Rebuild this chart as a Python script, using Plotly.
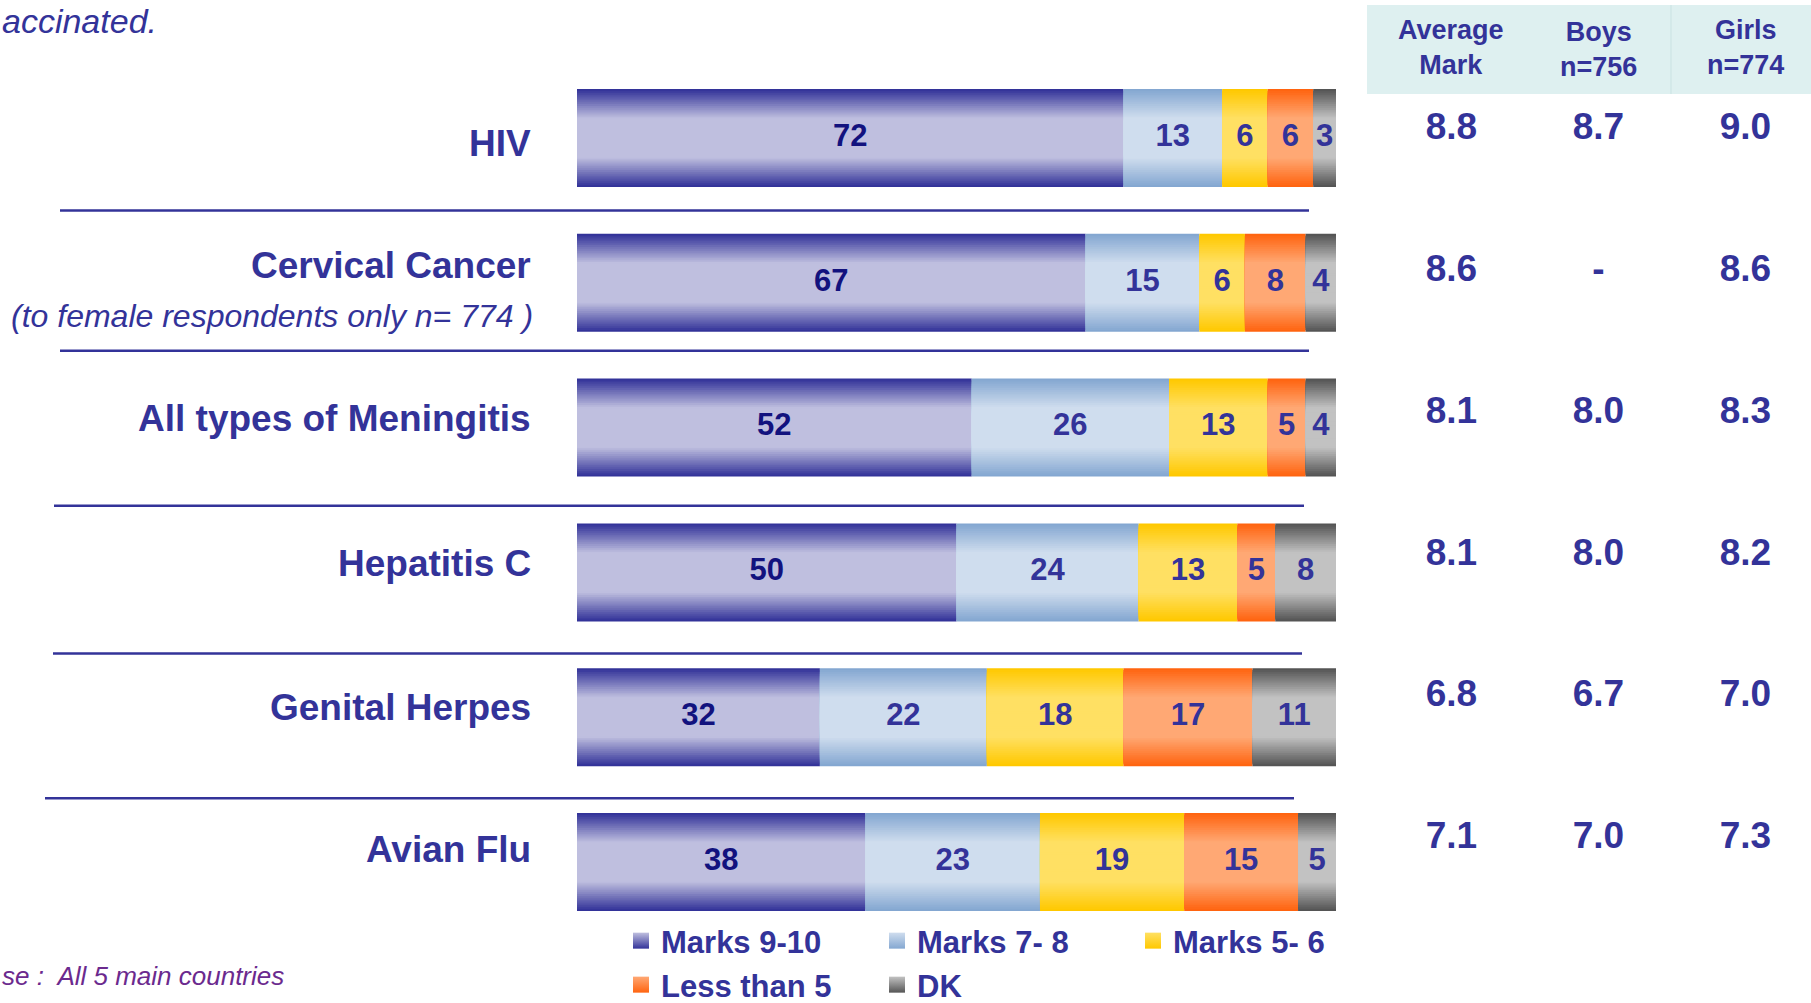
import plotly.graph_objects as go

W, H = 1811, 1003
FONT = "Liberation Sans, Arial, sans-serif"
NAVY = "#333399"

# ---- data ----
categories = ["HIV", "Cervical Cancer", "All types of Meningitis",
              "Hepatitis C", "Genital Herpes", "Avian Flu"]
series_names = ["Marks 9-10", "Marks 7- 8", "Marks 5- 6", "Less than 5", "DK"]
marks_9_10 = [72, 67, 52, 50, 32, 38]
marks_7_8 = [13, 15, 26, 24, 22, 23]
marks_5_6 = [6, 6, 13, 13, 18, 19]
less_than_5 = [6, 8, 5, 5, 17, 15]
dont_know = [3, 4, 4, 8, 11, 5]

table_columns = ["Average Mark", "Boys", "Girls"]
table_headers = ["Average<br>Mark", "Boys<br>n=756", "Girls<br>n=774"]
average_mark = [8.8, 8.6, 8.1, 8.1, 6.8, 7.1]
boys_mark = [8.7, None, 8.0, 8.0, 6.7, 7.0]
girls_mark = [9.0, 8.6, 8.3, 8.2, 7.0, 7.3]

cervical_note = "(to female respondents only n= 774 )"
# title and base note are cropped at the left edge in the source picture
title_text = "accinated."
base_text = "se :  All 5 main countries"

# ---- styles ----
# (edge colour, centre colour) of the vertical gradient of each series
series_colors = [
    ("#333399", "#BFBFDF"),
    ("#84A7D1", "#CFDDEE"),
    ("#FFC800", "#FFE063"),
    ("#FF6410", "#FFA874"),
    ("#555555", "#C2C2C2"),
]
label_colors = ["#12127E", NAVY, NAVY, NAVY, NAVY]
BAR_W = 0.677
N_LAYERS = 26


def hex_rgb(c):
    c = c.lstrip("#")
    return [int(c[i:i + 2], 16) for i in (0, 2, 4)]


def mix(c1, c2, t):
    a, b = hex_rgb(c1), hex_rgb(c2)
    return "rgb(%d,%d,%d)" % tuple(round(x + (y - x) * t) for x, y in zip(a, b))


def light_amount(f):
    # f = distance from bar centre as a fraction of the half height
    if f <= 0.42:
        return 1.0
    return max(0.0, 1 - (f - 0.42) / 0.58)


series_values = [marks_9_10, marks_7_8, marks_5_6, less_than_5, dont_know]

fig = go.Figure()

starts = [0] * len(categories)
for s, (name, vals) in enumerate(zip(series_names, series_values)):
    dark, light = series_colors[s]
    base = list(starts)
    for k in range(N_LAYERS):
        f = 1 - k / N_LAYERS
        fig.add_trace(go.Bar(
            y=categories, x=vals, base=base, orientation="h",
            width=BAR_W * f,
            marker=dict(color=mix(dark, light, light_amount(f)), line=dict(width=0)),
            name=name, hoverinfo="skip", showlegend=False,
        ))
    mids = [b + v / 2 for b, v in zip(base, vals)]
    fig.add_trace(go.Scatter(
        y=categories, x=mids, mode="text", text=[str(v) for v in vals],
        textfont=dict(size=31, color=label_colors[s], family=FONT, weight="bold"),
        showlegend=False, hoverinfo="skip",
    ))
    # legend entry with a small gradient square
    fig.add_trace(go.Scatter(
        x=[None], y=[None], mode="markers", name=name,
        marker=dict(symbol="square", size=16, color=light,
                    gradient=dict(type="vertical", color=dark), line=dict(width=0)),
        legend="legend" if s < 3 else "legend2",
    ))
    starts = [b + v for b, v in zip(base, vals)]

# table of marks on the right
for col, vals in zip(table_columns, [average_mark, boys_mark, girls_mark]):
    fig.add_trace(go.Scatter(
        x=[col] * len(categories), y=categories, mode="text",
        text=["-" if v is None else "%.1f" % v for v in vals],
        textfont=dict(size=37, color=NAVY, family=FONT, weight="bold"),
        xaxis="x2", yaxis="y2", showlegend=False, hoverinfo="skip",
    ))

annotations = []
# category labels
label_shift = [-6, 17, 9, 9, 10, 12]
for cat, dy in zip(categories, label_shift):
    annotations.append(dict(
        text=cat, x=533 / W, xref="paper", y=cat, yref="y", yshift=dy,
        xanchor="right", yanchor="middle", showarrow=False,
        font=dict(size=37, color=NAVY, family=FONT, weight="bold"),
    ))
annotations.append(dict(
    text="<i>" + cervical_note + "</i>", x=535 / W, xref="paper",
    y=categories[1], yref="y", yshift=-33,
    xanchor="right", yanchor="middle", showarrow=False,
    font=dict(size=32, color=NAVY, family=FONT),
))
# table headers
header_y = [47, 50, 47]
for col, txt, hy in zip(table_columns, table_headers, header_y):
    annotations.append(dict(
        text=txt, x=col, xref="x2", y=1 - hy / H, yref="paper",
        xanchor="center", yanchor="middle", showarrow=False,
        font=dict(size=27, color=NAVY, family=FONT, weight="bold"),
    ))
annotations.append(dict(
    text="<i>" + title_text + "</i>", x=0, xref="paper", y=1 - 21 / H, yref="paper",
    xanchor="left", yanchor="middle", showarrow=False,
    font=dict(size=34, color=NAVY, family=FONT),
))
annotations.append(dict(
    text="<i>" + base_text + "</i>", x=0, xref="paper", y=1 - 976 / H, yref="paper",
    xanchor="left", yanchor="middle", showarrow=False,
    font=dict(size=26, color="#6B2A8E", family=FONT),
))

shapes = [
    dict(type="rect", xref="paper", yref="paper", x0=1367 / W, x1=1, y0=1 - 94 / H, y1=1 - 5 / H,
         fillcolor="#DEF0F0", line=dict(width=0), layer="below"),
    dict(type="line", xref="paper", yref="paper", x0=1671 / W, x1=1671 / W, y0=1 - 94 / H, y1=1 - 5 / H,
         line=dict(color="#C9E2E2", width=1)),
]
sep_lines = [(0.50, 60, 1309), (1.47, 60, 1309), (2.54, 54, 1304), (3.56, 53, 1302), (4.56, 45, 1294)]
for yy, xa, xb in sep_lines:
    shapes.append(dict(type="line", xref="paper", yref="y", x0=xa / W, x1=xb / W, y0=yy, y1=yy,
                       line=dict(color=NAVY, width=2.5)))

legend_style = dict(
    orientation="h", xanchor="left", yanchor="middle", x=621 / W,
    entrywidth=211, entrywidthmode="pixels", bgcolor="rgba(0,0,0,0)",
    font=dict(size=31, color=NAVY, family=FONT, weight="bold"),
    itemclick=False, itemdoubleclick=False, traceorder="normal",
)

fig.update_layout(
    width=W, height=H,
    margin=dict(l=0, r=0, t=0, b=0, autoexpand=False),
    paper_bgcolor="white", plot_bgcolor="white",
    barmode="overlay",
    xaxis=dict(domain=[577 / W, 1336 / W], range=[0, 100], visible=False, fixedrange=True),
    yaxis=dict(domain=[0.0684, 0.9346], categoryorder="array", categoryarray=categories,
               range=[5.5, -0.5], visible=False, fixedrange=True),
    xaxis2=dict(domain=[1378 / W, 1], range=[-0.5, 2.446], anchor="y2",
                categoryorder="array", categoryarray=table_columns, visible=False, fixedrange=True),
    yaxis2=dict(domain=[0.0928, 0.9411], anchor="x2", categoryorder="array", categoryarray=categories,
                range=[5.5, -0.5], visible=False, fixedrange=True),
    legend=dict(legend_style, y=1 - 941 / H),
    legend2=dict(legend_style, y=1 - 985 / H),
    annotations=annotations,
    shapes=shapes,
    showlegend=True,
)

fig.write_html("out.html", config={"displayModeBar": False},
               post_script="document.body.style.margin='0';document.body.style.overflow='hidden';")
